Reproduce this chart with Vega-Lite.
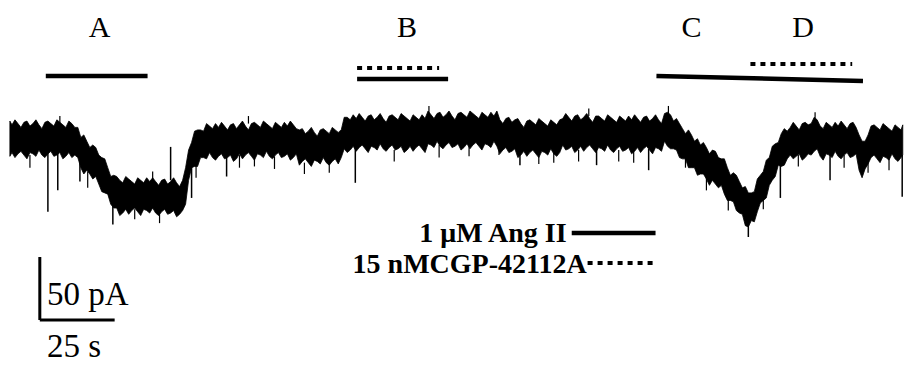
{
"$schema":"https://vega.github.io/schema/vega-lite/v6.json",
"width":905,"height":366,"padding":0,
"autosize":{"type":"fit","contains":"padding"},
"background":"white",
"config":{"view":{"stroke":null}},
"datasets":{
"trace":[
{"t":3.3,"h":15,"l":-13},{"t":4,"h":12,"l":-10},{"t":5,"h":16,"l":-14},{"t":6,"h":13,"l":-11},{"t":7,"h":10,"l":-9},{"t":8,"h":14,"l":-12},{"t":9,"h":15,"l":-15},{"t":10,"h":11,"l":-10},{"t":11,"h":13,"l":-11},{"t":12,"h":16,"l":-13},
{"t":13,"h":12,"l":-8},{"t":14,"h":9,"l":-12},{"t":15,"h":14,"l":-14},{"t":16,"h":15,"l":-11},{"t":17,"h":13,"l":-9},{"t":18,"h":11,"l":-13},{"t":19,"h":16,"l":-12},{"t":20,"h":14,"l":-10},{"t":21,"h":12,"l":-15},{"t":22,"h":10,"l":-13},
{"t":23,"h":15,"l":-10},{"t":24,"h":13,"l":-14},{"t":25,"h":10,"l":-12},{"t":26,"h":10,"l":-14},{"t":27,"h":2,"l":-22},{"t":28,"h":4,"l":-27},{"t":29,"h":-1,"l":-24},{"t":30,"h":-6,"l":-27},{"t":31,"h":-4,"l":-31},{"t":32,"h":-6,"l":-29},
{"t":33,"h":-12,"l":-35},{"t":34,"h":-14,"l":-41},{"t":35,"h":-15,"l":-42},{"t":36,"h":-22,"l":-43},{"t":37,"h":-29,"l":-51},{"t":38,"h":-28,"l":-54},{"t":39,"h":-29,"l":-54},{"t":40,"h":-32,"l":-60},{"t":41,"h":-34,"l":-58},{"t":42,"h":-29,"l":-55},
{"t":43,"h":-31,"l":-59},{"t":44,"h":-33,"l":-56},{"t":45,"h":-35,"l":-54},{"t":46,"h":-30,"l":-57},{"t":47,"h":-32,"l":-60},{"t":48,"h":-34,"l":-55},{"t":49,"h":-30,"l":-56},{"t":50,"h":-33,"l":-58},{"t":51,"h":-30,"l":-54},{"t":52,"h":-33,"l":-58},
{"t":53,"h":-36,"l":-60},{"t":54,"h":-32,"l":-57},{"t":55,"h":-31,"l":-55},{"t":56,"h":-35,"l":-59},{"t":57,"h":-33,"l":-58},{"t":58,"h":-30,"l":-56},{"t":59,"h":-34,"l":-61},{"t":60,"h":-37,"l":-59},{"t":61,"h":-32,"l":-56},{"t":62,"h":-22,"l":-51},
{"t":63,"h":-8,"l":-32},{"t":64,"h":-2,"l":-22},{"t":65,"h":7,"l":-21},{"t":66,"h":8,"l":-21},{"t":67,"h":8,"l":-14},{"t":68,"h":7,"l":-14},{"t":69,"h":13,"l":-15},{"t":70,"h":11,"l":-10},{"t":71,"h":9,"l":-14},{"t":72,"h":13,"l":-16},
{"t":73,"h":10,"l":-13},{"t":74,"h":14,"l":-11},{"t":75,"h":11,"l":-15},{"t":76,"h":8,"l":-14},{"t":77,"h":12,"l":-12},{"t":78,"h":13,"l":-17},{"t":79,"h":9,"l":-15},{"t":80,"h":12,"l":-11},{"t":81,"h":15,"l":-15},{"t":82,"h":11,"l":-12},
{"t":83,"h":8,"l":-10},{"t":84,"h":13,"l":-13},{"t":85,"h":14,"l":-16},{"t":86,"h":12,"l":-11},{"t":87,"h":10,"l":-12},{"t":88,"h":15,"l":-14},{"t":89,"h":13,"l":-9},{"t":90,"h":11,"l":-13},{"t":91,"h":9,"l":-15},{"t":92,"h":14,"l":-12},
{"t":93,"h":12,"l":-10},{"t":94,"h":10,"l":-14},{"t":95,"h":14,"l":-13},{"t":96,"h":11,"l":-11},{"t":97,"h":15,"l":-16},{"t":98,"h":12,"l":-14},{"t":99,"h":9,"l":-11},{"t":100,"h":8,"l":-20},{"t":101,"h":9,"l":-17},{"t":102,"h":5,"l":-15},
{"t":103,"h":7,"l":-18},{"t":104,"h":10,"l":-21},{"t":105,"h":6,"l":-16},{"t":106,"h":3,"l":-17},{"t":107,"h":8,"l":-19},{"t":108,"h":9,"l":-14},{"t":109,"h":7,"l":-18},{"t":110,"h":5,"l":-20},{"t":111,"h":10,"l":-17},{"t":112,"h":8,"l":-15},
{"t":113,"h":6,"l":-19},{"t":114,"h":8,"l":-14},{"t":115,"h":18,"l":-7},{"t":116,"h":18,"l":-10},{"t":117,"h":16,"l":-8},{"t":118,"h":20,"l":-5},{"t":119,"h":17,"l":-9},{"t":120,"h":21,"l":-6},{"t":121,"h":18,"l":-4},{"t":122,"h":15,"l":-7},
{"t":123,"h":19,"l":-10},{"t":124,"h":20,"l":-5},{"t":125,"h":16,"l":-6},{"t":126,"h":18,"l":-8},{"t":127,"h":21,"l":-3},{"t":128,"h":17,"l":-7},{"t":129,"h":14,"l":-9},{"t":130,"h":19,"l":-6},{"t":131,"h":20,"l":-4},{"t":132,"h":18,"l":-8},
{"t":133,"h":16,"l":-7},{"t":134,"h":21,"l":-5},{"t":135,"h":19,"l":-10},{"t":136,"h":17,"l":-8},{"t":137,"h":15,"l":-5},{"t":138,"h":20,"l":-9},{"t":139,"h":18,"l":-6},{"t":140,"h":16,"l":-4},{"t":141,"h":20,"l":-7},{"t":142,"h":17,"l":-10},
{"t":143,"h":23,"l":-3},{"t":144,"h":20,"l":-4},{"t":145,"h":17,"l":-6},{"t":146,"h":21,"l":-1},{"t":147,"h":22,"l":-5},{"t":148,"h":18,"l":-7},{"t":149,"h":20,"l":-4},{"t":150,"h":23,"l":-2},{"t":151,"h":19,"l":-6},{"t":152,"h":16,"l":-5},
{"t":153,"h":21,"l":-3},{"t":154,"h":22,"l":-8},{"t":155,"h":20,"l":-6},{"t":156,"h":18,"l":-3},{"t":157,"h":23,"l":-7},{"t":158,"h":21,"l":-4},{"t":159,"h":19,"l":-2},{"t":160,"h":17,"l":-5},{"t":161,"h":22,"l":-8},{"t":162,"h":20,"l":-3},
{"t":163,"h":18,"l":-4},{"t":164,"h":22,"l":-6},{"t":165,"h":19,"l":-1},{"t":166,"h":23,"l":-5},{"t":167,"h":16,"l":-11},{"t":168,"h":13,"l":-8},{"t":169,"h":17,"l":-6},{"t":170,"h":18,"l":-10},{"t":171,"h":14,"l":-9},{"t":172,"h":16,"l":-7},
{"t":173,"h":17,"l":-14},{"t":174,"h":13,"l":-12},{"t":175,"h":10,"l":-9},{"t":176,"h":15,"l":-13},{"t":177,"h":16,"l":-10},{"t":178,"h":14,"l":-8},{"t":179,"h":12,"l":-11},{"t":180,"h":17,"l":-14},{"t":181,"h":15,"l":-9},{"t":182,"h":13,"l":-10},
{"t":183,"h":11,"l":-12},{"t":184,"h":16,"l":-7},{"t":185,"h":14,"l":-11},{"t":186,"h":12,"l":-13},{"t":187,"h":16,"l":-10},{"t":188,"h":17,"l":-4},{"t":189,"h":21,"l":-8},{"t":190,"h":18,"l":-7},{"t":191,"h":15,"l":-5},{"t":192,"h":19,"l":-10},
{"t":193,"h":20,"l":-8},{"t":194,"h":16,"l":-5},{"t":195,"h":18,"l":-9},{"t":196,"h":21,"l":-6},{"t":197,"h":17,"l":-4},{"t":198,"h":14,"l":-7},{"t":199,"h":19,"l":-10},{"t":200,"h":19,"l":-6},{"t":201,"h":17,"l":-7},{"t":202,"h":15,"l":-9},
{"t":203,"h":20,"l":-4},{"t":204,"h":18,"l":-8},{"t":205,"h":16,"l":-10},{"t":206,"h":14,"l":-7},{"t":207,"h":19,"l":-5},{"t":208,"h":17,"l":-9},{"t":209,"h":15,"l":-8},{"t":210,"h":19,"l":-6},{"t":211,"h":16,"l":-11},{"t":212,"h":20,"l":-9},
{"t":213,"h":17,"l":-6},{"t":214,"h":14,"l":-10},{"t":215,"h":18,"l":-7},{"t":216,"h":19,"l":-5},{"t":217,"h":15,"l":-8},{"t":218,"h":17,"l":-11},{"t":219,"h":20,"l":-6},{"t":220,"h":16,"l":-7},{"t":221,"h":13,"l":-9},{"t":222,"h":21,"l":-1},
{"t":223,"h":22,"l":-5},{"t":224,"h":20,"l":-7},{"t":225,"h":15,"l":-7},{"t":226,"h":17,"l":-8},{"t":227,"h":13,"l":-14},{"t":228,"h":9,"l":-15},{"t":229,"h":5,"l":-15},{"t":230,"h":8,"l":-22},{"t":231,"h":4,"l":-22},{"t":232,"h":-1,"l":-22},
{"t":233,"h":1,"l":-28},{"t":234,"h":-4,"l":-27},{"t":235,"h":-2,"l":-27},{"t":236,"h":-6,"l":-31},{"t":237,"h":-11,"l":-36},{"t":238,"h":-8,"l":-32},{"t":239,"h":-9,"l":-35},{"t":240,"h":-14,"l":-38},{"t":241,"h":-15,"l":-36},{"t":242,"h":-15,"l":-43},
{"t":243,"h":-22,"l":-48},{"t":244,"h":-28,"l":-48},{"t":245,"h":-26,"l":-49},{"t":246,"h":-28,"l":-56},{"t":247,"h":-33,"l":-58},{"t":248,"h":-38,"l":-59},{"t":249,"h":-37,"l":-68},{"t":250,"h":-42,"l":-69},{"t":251,"h":-42,"l":-64},{"t":252,"h":-41,"l":-65},
{"t":253,"h":-31,"l":-57},{"t":254,"h":-28,"l":-50},{"t":255,"h":-25,"l":-48},{"t":256,"h":-16,"l":-46},{"t":257,"h":-14,"l":-36},{"t":258,"h":-5,"l":-32},{"t":259,"h":-3,"l":-29},{"t":260,"h":-2,"l":-20},{"t":261,"h":5,"l":-21},{"t":262,"h":9,"l":-20},
{"t":263,"h":7,"l":-15},{"t":264,"h":10,"l":-12},{"t":265,"h":14,"l":-15},{"t":266,"h":11,"l":-13},{"t":267,"h":8,"l":-11},{"t":268,"h":13,"l":-16},{"t":269,"h":14,"l":-14},{"t":270,"h":12,"l":-11},{"t":271,"h":13,"l":-12},{"t":272,"h":18,"l":-9},
{"t":273,"h":16,"l":-7},{"t":274,"h":11,"l":-13},{"t":275,"h":9,"l":-16},{"t":276,"h":14,"l":-11},{"t":277,"h":12,"l":-12},{"t":278,"h":10,"l":-14},{"t":279,"h":14,"l":-9},{"t":280,"h":11,"l":-13},{"t":281,"h":15,"l":-15},{"t":282,"h":12,"l":-12},
{"t":283,"h":9,"l":-10},{"t":284,"h":13,"l":-14},{"t":285,"h":14,"l":-13},{"t":286,"h":10,"l":-11},{"t":287,"h":4,"l":-24},{"t":288,"h":-1,"l":-30},{"t":289,"h":-1,"l":-23},{"t":290,"h":4,"l":-19},{"t":291,"h":11,"l":-14},{"t":292,"h":12,"l":-12},
{"t":293,"h":10,"l":-15},{"t":294,"h":8,"l":-18},{"t":295,"h":13,"l":-13},{"t":296,"h":11,"l":-14},{"t":297,"h":9,"l":-16},{"t":298,"h":7,"l":-11},{"t":299,"h":12,"l":-15},{"t":300,"h":10,"l":-17},{"t":301,"h":8,"l":-14},{"t":301.6,"h":12,"l":-12}
],
"spikes":[
{"t":16,"a":-10,"b":-57},{"t":19.3,"a":-10,"b":-40},{"t":26.7,"a":-15,"b":-33},{"t":37.7,"a":-45,"b":-67},{"t":57,"a":-32,"b":-5.5},{"t":64,"a":-20,"b":-46},{"t":75.7,"a":-12,"b":-29},{"t":118.7,"a":-5,"b":-34},{"t":173.7,"a":-10,"b":-20},{"t":199.3,"a":-6,"b":-20},{"t":216.7,"a":-7,"b":-24},{"t":250,"a":-60,"b":-77},{"t":260.7,"a":-20,"b":-46},{"t":277.3,"a":-10,"b":-32},{"t":301.4,"a":-12,"b":-45}
],
"hairs":[
{"t":10,"a":-12,"b":-22},{"t":29.3,"a":-25,"b":-38},{"t":45,"a":-55,"b":-63},{"t":53.3,"a":-57,"b":-66},{"t":65.5,"a":-18,"b":-30},{"t":80,"a":-12,"b":-22},{"t":85,"a":-13,"b":-21},{"t":91.7,"a":-13,"b":-23},{"t":101.7,"a":-18,"b":-27},{"t":110,"a":-18,"b":-26},
{"t":131.7,"a":-8,"b":-17},{"t":146.7,"a":-4,"b":-14},{"t":156.7,"a":-5,"b":-13},{"t":166.7,"a":-4,"b":-12},{"t":180,"a":-10,"b":-19},{"t":185,"a":-10,"b":-18},{"t":193.3,"a":-8,"b":-17},{"t":206.7,"a":-8,"b":-17},{"t":211.7,"a":-9,"b":-18},{"t":229,"a":-10,"b":-22},
{"t":236,"a":-28,"b":-40},{"t":243.3,"a":-44,"b":-56},{"t":255,"a":-45,"b":-55},{"t":266.7,"a":-12,"b":-21},{"t":282,"a":-12,"b":-22},{"t":290,"a":-15,"b":-26},{"t":297,"a":-14,"b":-24},
{"t":20,"a":12,"b":19},{"t":51,"a":-33,"b":-25},{"t":83,"a":13,"b":19},{"t":143.3,"a":20,"b":27},{"t":196.7,"a":19,"b":25},{"t":223.3,"a":20,"b":27},{"t":272.3,"a":17,"b":22}
],
"solid":[
{"t":15.3,"t2":49.3,"v":50.8,"v2":50.8},{"t":119.3,"t2":149.7,"v":48.4,"v2":48.4},{"t":219.3,"t2":288.3,"v":50.8,"v2":46.8},{"t":191,"t2":219,"v":-73.8,"v2":-73.8}
],
"dotted":[
{"t":119.3,"t2":146.7,"v":57.1,"v2":57.1},{"t":250.7,"t2":284.7,"v":60.3,"v2":60.3},{"t":196.3,"t2":219,"v":-97.6,"v2":-97.6}
],
"scalebar":[
{"t":13.3,"t2":13.3,"v":-92.9,"v2":-142.9},{"t":13.3,"t2":38.3,"v":-142.9,"v2":-142.9}
],
"letters":[
{"t":33.3,"v":81.7,"label":"A"},{"t":136,"v":81.7,"label":"B"},{"t":231,"v":81.7,"label":"C"},{"t":268.3,"v":81.7,"label":"D"}
],
"units":[
{"t":15.7,"v":-131,"label":"50 pA"},{"t":15.7,"v":-172,"label":"25 s"}
],
"legend":[
{"t":189.3,"v":-81,"label":"1 μM Ang II"},{"t":196,"v":-105.6,"label":"15 nMCGP-42112A"}
]
},
"layer":[
{"data":{"name":"trace"},"mark":{"type":"area","color":"black","stroke":"black","strokeWidth":0.8},
 "encoding":{"x":{"field":"t","type":"quantitative","scale":{"domain":[0,301.67],"nice":false,"zero":false},"axis":null},
 "y":{"field":"h","type":"quantitative","scale":{"domain":[-179.4,111.1],"nice":false,"zero":false},"axis":null},
 "y2":{"field":"l"}}},
{"data":{"name":"spikes"},"mark":{"type":"rule","color":"black","strokeWidth":1.5},
 "encoding":{"x":{"field":"t","type":"quantitative"},"y":{"field":"a","type":"quantitative"},"y2":{"field":"b"}}},
{"data":{"name":"hairs"},"mark":{"type":"rule","color":"black","strokeWidth":1.2},
 "encoding":{"x":{"field":"t","type":"quantitative"},"y":{"field":"a","type":"quantitative"},"y2":{"field":"b"}}},
{"data":{"name":"solid"},"mark":{"type":"rule","color":"black","strokeWidth":4.5},
 "encoding":{"x":{"field":"t","type":"quantitative"},"x2":{"field":"t2"},"y":{"field":"v","type":"quantitative"},"y2":{"field":"v2"}}},
{"data":{"name":"dotted"},"mark":{"type":"rule","color":"black","strokeWidth":4,"strokeDash":[5,5]},
 "encoding":{"x":{"field":"t","type":"quantitative"},"x2":{"field":"t2"},"y":{"field":"v","type":"quantitative"},"y2":{"field":"v2"}}},
{"data":{"name":"scalebar"},"mark":{"type":"rule","color":"black","strokeWidth":3},
 "encoding":{"x":{"field":"t","type":"quantitative"},"x2":{"field":"t2"},"y":{"field":"v","type":"quantitative"},"y2":{"field":"v2"}}},
{"data":{"name":"letters"},"mark":{"type":"text","font":"Liberation Serif","fontSize":30,"align":"center","baseline":"alphabetic","color":"black"},
 "encoding":{"x":{"field":"t","type":"quantitative"},"y":{"field":"v","type":"quantitative"},"text":{"field":"label"}}},
{"data":{"name":"units"},"mark":{"type":"text","font":"Liberation Serif","fontSize":33,"align":"left","baseline":"alphabetic","color":"black"},
 "encoding":{"x":{"field":"t","type":"quantitative"},"y":{"field":"v","type":"quantitative"},"text":{"field":"label"}}},
{"data":{"name":"legend"},"mark":{"type":"text","font":"Liberation Serif","fontSize":28,"fontWeight":"bold","align":"right","baseline":"alphabetic","color":"black"},
 "encoding":{"x":{"field":"t","type":"quantitative"},"y":{"field":"v","type":"quantitative"},"text":{"field":"label"}}}
]
}
